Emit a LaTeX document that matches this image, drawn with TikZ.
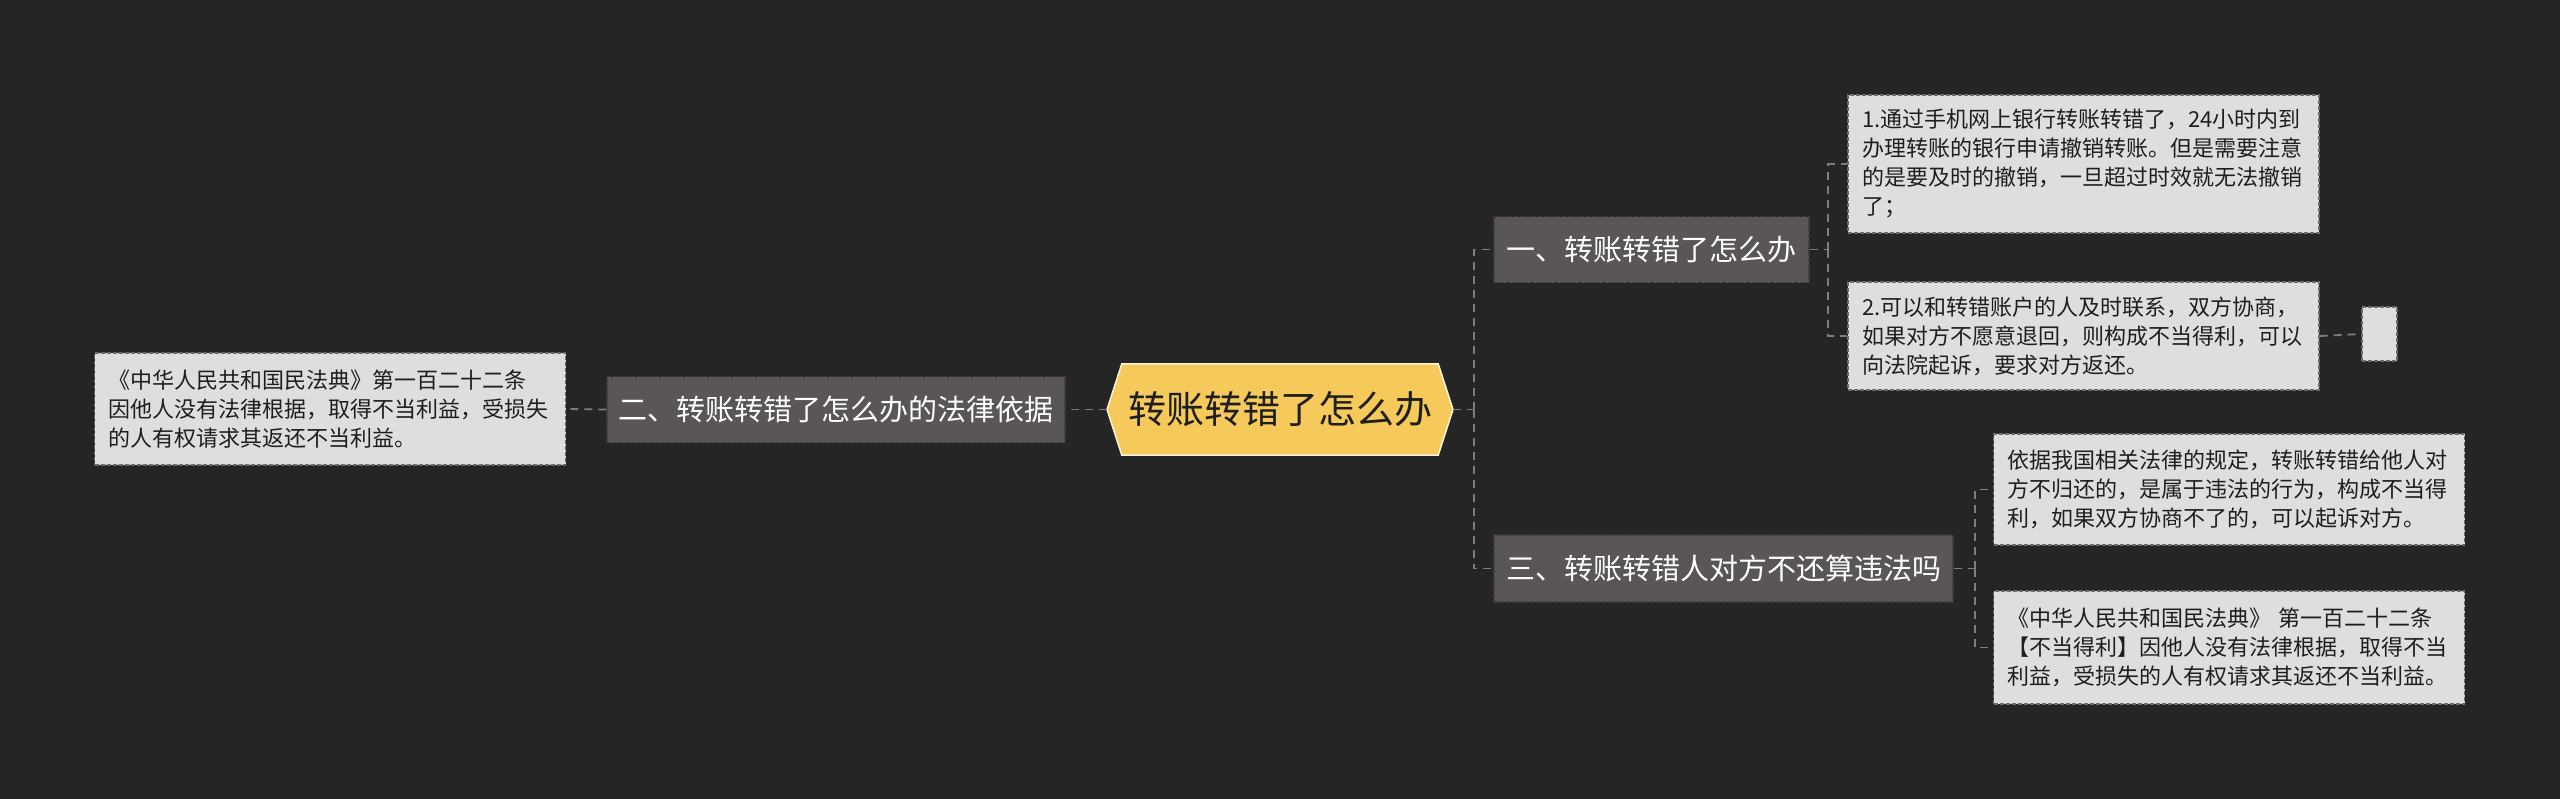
\documentclass[tikz,border=0pt]{standalone}
\usepackage{fontspec}
\setmainfont{Noto Sans CJK SC}
\usetikzlibrary{backgrounds}
\definecolor{bgc}{HTML}{252525}
\definecolor{rootfill}{HTML}{F5C95A}
\definecolor{rootedge}{HTML}{FBF3DA}
\definecolor{brfill}{HTML}{5A5655}
\definecolor{bredge}{HTML}{3E3B3A}
\definecolor{leaffill}{HTML}{DEDEDE}
\definecolor{leafedge}{HTML}{6A6A6A}
\definecolor{linec}{HTML}{7E7E7E}
\definecolor{darktext}{HTML}{1E1E1E}
\tikzset{
  conn/.style={draw=linec, line width=1.8pt, dash pattern=on 8pt off 6pt},
  branchbox/.style={rectangle, fill=brfill, draw=bredge, line width=1.2pt,
    dash pattern=on 4pt off 2pt, text=white, inner sep=0pt,
    font=\fontsize{29pt}{34pt}\selectfont},
  leafbox/.style={rectangle, fill=leaffill, draw=leafedge, line width=1.2pt,
    dash pattern=on 4pt off 2pt, text=darktext, inner xsep=14pt, inner ysep=0pt,
    text width=443pt, align=left, font=\fontsize{22pt}{29pt}\selectfont},
  rootbox/.style={rectangle, inner sep=0pt, text=darktext,
    font=\fontsize{38pt}{42pt}\selectfont}
}
\begin{document}
\begin{tikzpicture}[x=1pt,y=-1pt]
\useasboundingbox (0,0) rectangle (2560,798);

% root
\node[rootbox, minimum width=316pt, minimum height=91pt] (root) at (1280,409.5) {转账转错了怎么办};
\coordinate (rootL) at (1107,409.5);
\coordinate (rootR) at (1453,409.5);
\begin{pgfonlayer}{background}
\fill[bgc] (-6,-6) rectangle (2566,804);
\draw[fill=rootfill, draw=rootedge, line width=1.5pt]
  (root.north west) -- (root.north east) -- (rootR) -- (root.south east)
  -- (root.south west) -- (rootL) -- cycle;
\end{pgfonlayer}

% branches
\node[branchbox, minimum width=458pt, minimum height=66pt] (b2) at (836,409.5) {二、转账转错了怎么办的法律依据};
\node[branchbox, minimum width=315pt, minimum height=66pt] (b1) at (1651.5,249.5) {一、转账转错了怎么办};
\node[branchbox, minimum width=459pt, minimum height=67pt] (b3) at (1723.5,568.5) {三、转账转错人对方不还算违法吗};

% leaves
\node[leafbox, minimum height=112pt] (lL) at (330,409) {《中华人民共和国民法典》第一百二十二条\\因他人没有法律根据，取得不当利益，受损失\\的人有权请求其返还不当利益。};
\node[leafbox, minimum height=138pt] (l1) at (2083.5,164) {1.通过手机网上银行转账转错了，24小时内到\\办理转账的银行申请撤销转账。但是需要注意\\的是要及时的撤销，一旦超过时效就无法撤销\\了；};
\node[leafbox, minimum height=108pt] (l2) at (2083.5,336) {2.可以和转错账户的人及时联系，双方协商，\\如果对方不愿意退回，则构成不当得利，可以\\向法院起诉，要求对方返还。};
\node[rectangle, fill=leaffill, draw=leafedge, line width=1.2pt, dash pattern=on 4pt off 2pt,
  minimum width=35pt, minimum height=54pt, inner sep=0pt] (sm) at (2379.5,334) {};
\node[leafbox, minimum height=111pt] (l3) at (2229,489.5) {依据我国相关法律的规定，转账转错给他人对\\方不归还的，是属于违法的行为，构成不当得\\利，如果双方协商不了的，可以起诉对方。};
\node[leafbox, minimum height=113pt] (l4) at (2229,647.5) {《中华人民共和国民法典》 第一百二十二条\\【不当得利】因他人没有法律根据，取得不当\\利益，受损失的人有权请求其返还不当利益。};

% junctions
\coordinate (j0) at (1474,409.5);
\coordinate (j1) at (1828,249.5);
\coordinate (j3) at (1975,568.5);

% connectors
\draw[conn] (rootL) -- (b2.east);
\draw[conn] (b2.west) -- (lL.east);
\draw[conn] (rootR) -- (j0);
\draw[conn] (j0) |- (b1.west);
\draw[conn] (j0) |- (b3.west);
\draw[conn] (b1.east) -- (j1);
\draw[conn] (j1) |- (l1.west);
\draw[conn] (j1) |- (l2.west);
\draw[conn] (l2.east) -- (sm.west);
\draw[conn] (b3.east) -- (j3);
\draw[conn] (j3) |- (l3.west);
\draw[conn] (j3) |- (l4.west);
\end{tikzpicture}
\end{document}
